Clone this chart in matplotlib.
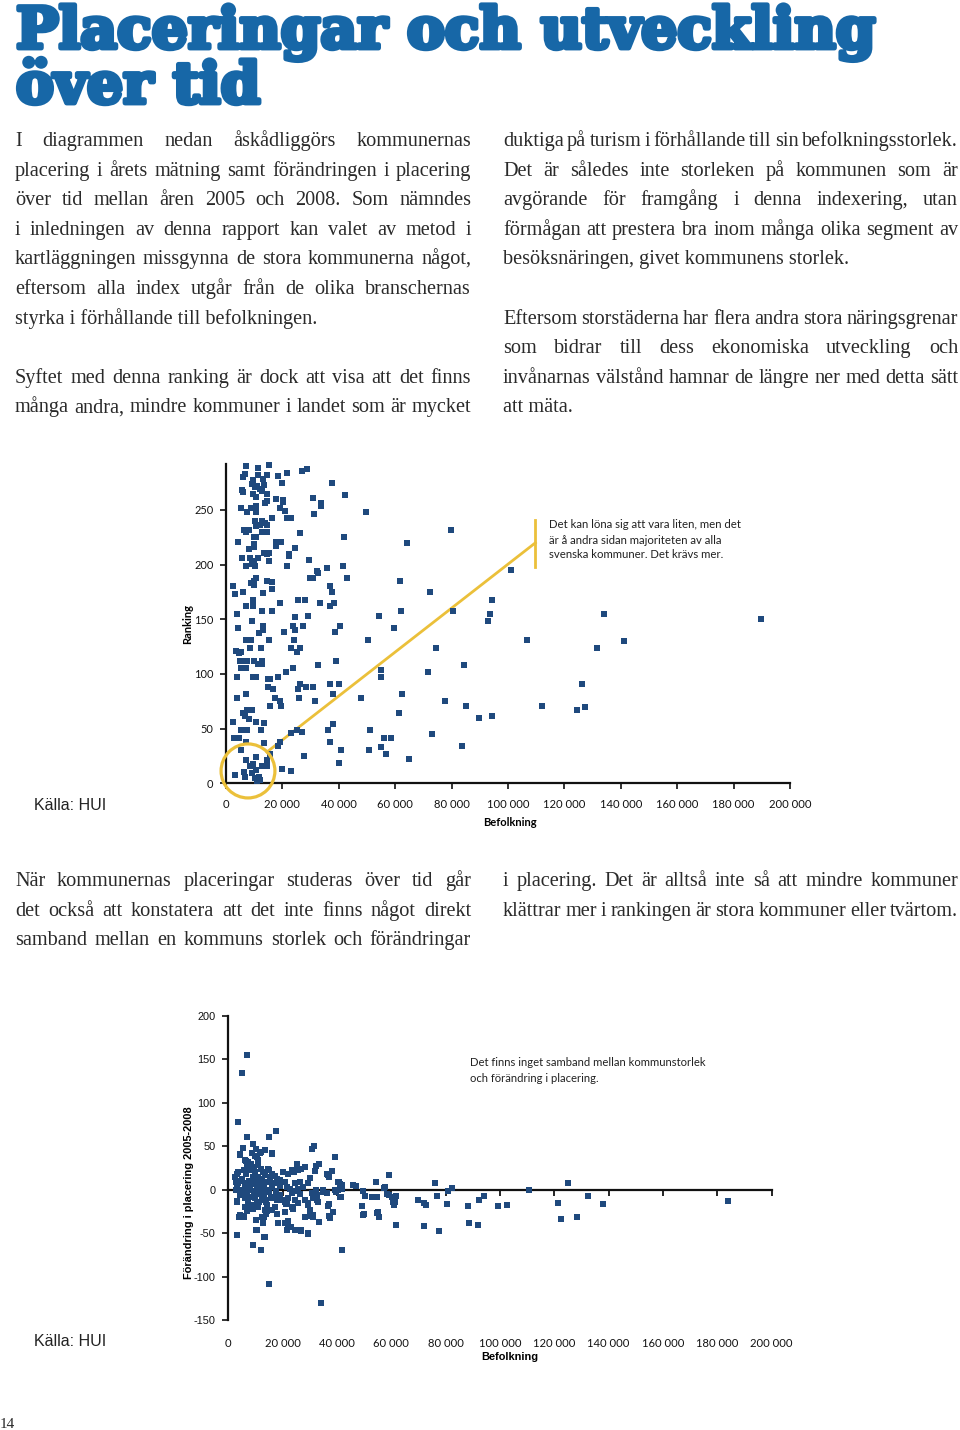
import numpy as np
import matplotlib
matplotlib.use('Agg')
import matplotlib.pyplot as plt
import matplotlib.patheffects as pe
from matplotlib.patches import Ellipse

plt.rcParams['axes.unicode_minus'] = False

# --- data: diagram 1, befolkning (tusental) och ranking ---
bef1 = [7.1, 11.4, 15.2, 6.8, 11.4, 14.4, 18.5, 21.5, 27.1, 28.8, 5.9, 9.4, 13.0, 20.0, 37.7,
        9.1, 11.1, 10.3, 13.6, 12.0, 5.5, 5.9, 9.4, 10.6, 12.6, 14.7, 30.9, 33.6, 33.6, 42.1, 17.9, 20.3, 20.3, 14.4, 13.8,
        5.2, 8.7, 10.5, 7.3, 10.8, 19.1, 20.9, 21.5, 22.9, 16.2, 31.1, 49.8, 10.3, 12.6, 13.8, 12.0, 10.8, 14.4,
        6.4, 8.3, 7.1, 12.6, 14.4, 10.6, 9.9, 4.4, 17.9, 19.5, 17.7, 26.2, 41.7, 79.8, 64.1, 24.5, 22.4, 22.4, 9.9, 9.9, 8.3, 13.4, 15.2, 14.4, 15.2, 11.4,
        5.5, 8.5, 9.9, 9.1, 7.1, 10.4, 21.8, 29.4, 35.8, 41.5, 32.4, 32.8, 101.0, 10.8, 9.9, 8.9, 9.9, 14.4, 16.2, 16.2, 29.7, 30.9, 42.9, 36.8, 37.6, 2.4, 3.2, 5.9, 13.0, 61.8, 72.2,
        9.7, 25.6, 27.9, 7.1, 9.7, 19.0, 33.5, 36.8, 38.3, 94.3, 3.8, 12.7, 16.2, 29.1, 24.5, 54.1, 61.9, 80.5, 93.6, 93.0, 9.1, 4.4, 13.2, 13.0, 11.8, 20.5, 23.8, 24.5, 27.4, 40.3, 38.6, 59.4,
        7.1, 8.8, 15.3, 24.1, 50.3, 106.9, 3.4, 4.6, 5.2, 8.5, 12.4, 23.2, 26.2, 25.3, 74.5, 5.0, 6.4, 7.5, 9.9, 12.6, 11.3, 12.7, 38.9, 5.3, 6.4, 7.1, 32.7, 21.2, 23.8, 54.9, 54.9, 71.6, 84.4, 3.8, 9.4, 10.8, 15.0, 15.6, 18.3, 26.2, 28.3, 30.9, 36.8, 40.1, 15.0, 16.7, 25.7,
        7.1, 3.8, 17.2, 25.9, 38.0, 47.7, 62.4, 19.1, 15.6, 19.5, 31.6, 77.5, 85.1, 112.2, 7.3, 9.3, 5.9, 6.8, 8.0, 61.3, 89.8, 94.3, 2.6, 10.6, 13.6, 5.2, 7.5, 12.4, 25.2, 27.1, 23.2, 36.2, 38.0, 50.9, 2.8, 4.7, 56.2, 58.6, 73.0, 7.1, 13.6, 19.1, 37.0, 5.2, 18.6, 55.1, 83.6, 40.7, 50.7, 56.8, 27.7, 15.6, 64.8, 40.1, 14.4, 7.1, 10.6, 9.4, 8.5, 12.6, 14.4, 20.0, 23.0, 3.2, 6.4, 9.1, 10.6, 6.7, 10.3, 11.1, 12.0, 11.8,
        134.0, 131.7, 141.3, 189.7, 126.2, 124.6, 127.3]
rank1 = [290, 288, 291, 283, 282, 282, 281, 284, 286, 287, 280, 277, 278, 275, 275,
         274, 272, 271, 273, 269, 268, 266, 265, 262, 267, 265, 261, 256, 254, 264, 260, 259, 257, 258, 256,
         252, 252, 254, 248, 248, 252, 249, 243, 243, 243, 246, 248, 240, 240, 238, 236, 235, 236,
         232, 232, 230, 230, 230, 225, 225, 221, 221, 221, 217, 229, 225, 232, 220, 215, 210, 208, 219, 216, 214, 211, 211, 210, 203, 206,
         206, 206, 203, 201, 199, 199, 199, 204, 197, 199, 194, 192, 195, 188, 185, 183, 181, 185, 184, 178, 188, 188, 188, 180, 175, 180, 173, 175, 174, 185, 175,
         168, 168, 168, 162, 162, 165, 165, 162, 165, 168, 155, 158, 158, 153, 152, 153, 158, 158, 155, 148, 148, 142, 144, 140, 137, 138, 144, 140, 144, 144, 138, 142,
         131, 131, 131, 131, 131, 131, 121, 119, 120, 124, 124, 124, 124, 120, 124, 112, 112, 112, 112, 112, 109, 109, 112, 105, 105, 105, 108, 102, 105, 104, 97, 102, 108, 97, 97, 97, 95, 95, 97, 91, 88, 88, 91, 91, 88, 86, 86,
         82, 78, 78, 78, 82, 78, 82, 75, 71, 71, 75, 75, 71, 71, 67, 67, 64, 62, 59, 64, 60, 62, 56, 56, 55, 49, 49, 49, 49, 47, 46, 49, 54, 49, 41, 41, 41, 41, 45, 38, 37, 38, 38, 30, 34, 33, 34, 30, 30, 27, 25, 27, 22, 19, 21, 21, 24, 18, 16, 16, 16, 13, 11, 8, 10, 9, 12, 6, 5, 2, 3, 6,
         155, 124, 130, 150, 91, 67, 70]

# --- data: diagram 2, befolkning (tusental) och förändring i placering 2005-2008 ---
bef2 = [7.0, 5.2, 3.7, 6.7, 17.4, 15.1, 31.5, 30.7, 39.3, 9.0, 10.2, 5.3, 4.3, 13.4, 16.0, 12.0, 6.5, 7.4, 25.2, 33.4, 28.2, 32.2, 31.9, 38.3, 20.0, 23.7, 26.6, 25.8, 36.2, 36.8, 37.2, 59.3, 40.7, 47.0, 54.4, 57.4, 76.1, 82.2, 80.7, 110.8,
        49.7, 50.3, 53.0, 54.6, 58.3, 60.1, 61.0, 61.1, 60.5, 69.9, 72.0, 72.8, 76.7, 80.5, 88.3, 92.4, 94.2, 99.4, 102.5, 49.1, 50.1, 55.2, 55.6, 61.8, 72.0, 77.5, 88.7, 91.8, 42.0, 34.1, 15.1, 12.0, 9.0, 3.1, 13.3, 10.2,
        17.8, 18.4, 21.7, 22.1, 20.9, 22.9, 26.6, 29.5, 28.2, 30.1, 31.0, 33.4, 37.2, 38.6, 37.3, 36.8, 37.2, 41.3, 39.5, 35.0, 36.2, 31.5, 32.5, 29.2, 25.8, 26.4, 24.9, 21.5, 21.7, 21.2, 19.4, 23.3, 23.7, 16.0, 14.1, 13.9, 13.1, 12.9, 12.6, 10.2, 10.7, 11.0, 3.1, 4.3, 3.9, 5.8, 7.0, 3.1, 3.7, 2.8, 2.8,
        4.3, 8.6, 9.8, 11.7, 13.5, 15.9, 6.1, 11.1, 10.4, 23.3, 30.1, 40.5, 41.2, 42.0, 46.0, 20.3, 22.1, 24.0, 14.7, 17.2, 19.0, 20.9, 21.5, 24.5, 26.4, 27.6, 29.5, 25.8, 32.1, 35.0, 39.3, 40.5, 41.7, 30.7, 32.5, 31.3, 33.1, 28.2, 29.5, 30.1, 31.3,
        22.7, 23.3, 22.1, 20.9, 24.5, 19.0, 17.8, 17.2, 15.9, 13.5, 14.1, 13.5, 12.3, 10.4, 9.2, 8.0, 6.8, 5.5, 3.1, 4.3, 3.1, 3.7, 2.5, 10.4, 13.5, 20.9, 22.1, 24.5, 26.7, 29.5,
        5.0, 6.0, 6.5, 7.0, 7.5, 8.0, 8.0, 8.5, 9.0, 9.0, 9.5, 10.0, 10.0, 10.0, 10.5, 11.0, 11.0, 11.5, 12.0, 12.0, 12.5, 13.0, 13.0, 13.5, 14.0, 14.0, 14.5, 15.0, 15.5, 16.0, 16.5, 17.0, 17.5, 18.0, 18.5, 19.0,
        6.0, 7.0, 8.5, 9.5, 11.0, 12.5, 5.5, 4.5, 7.2, 8.8, 10.8, 9.2, 11.8, 12.8, 14.8, 15.8, 16.2, 6.8, 7.8, 10.2, 13.2, 11.3, 5.8, 4.8, 6.2,
        41.1, 41.1, 57.7, 59.3, 61.9, 61.4, 49.5, 54.9,
        121.4, 122.5, 125.1, 128.2, 132.4, 138.0, 183.8]
fors2 = [155, 134, 78, 60, 67, 60, 50, 47, 38, 52, 47, 48, 40, 45, 41, 43, 33, 32, 30, 30, 26, 27, 21, 21, 20, 21, 24, 23, 18, 17, 15, 17, 9, 4, 9, 2, 7, 2, -2, 0,
         -2, -7, -8, -8, -5, -8, -10, -18, -14, -12, -15, -18, -7, -17, -19, -12, -7, -19, -18, -19, -28, -26, -31, -41, -42, -48, -39, -41, -69, -130, -109, -69, -64, -52, -55, -47,
         -28, -38, -47, -36, -26, -43, -46, -51, -31, -30, -31, -37, -30, -26, -33, -19, -17, -9, -3, -3, -4, -5, -12, -18, -15, -5, -2, -12, -14, -17, -12, -20, -22, -23, -25, -28, -32, -35, -38, -35, -20, -17, -13, -29, -31, -32, -25, 18, 20, 9, 0,
         41, 42, 39, 42, 46, 42, 34, 34, 38, 23, 13, 9, 6, 5, 5, 20, 18, 20, 24, 16, 11, 9, 3, 7, 9, 3, 8, 1, -1, -1, -1, 0, 1, -4, -6, -10, -14, -12, -16, -23, -29,
         1, -4, -10, -14, -12, -6, -12, -20, -24, -12, -18, -24, -31, -16, -22, -18, -22, -30, -14, -6, 2, 8, 15, -46, -54, -39, -43, -46, -48, -50,
         12, 5, 18, -3, 10, 22, 0, -8, 14, 6, -2, 20, 9, -10, 3, 15, -5, 8, 24, -1, 12, 5, -8, 17, 0, -14, 9, -3, 14, 3, -9, 8, -2, 12, -6, 4,
         -10, 28, 30, 26, 28, -12, 0, 10, -14, -18, -20, 12, 2, 20, 22, -10, 18, 8, 4, -4, -3, -14, 22, -4, -20,
         1.5, -9, 3, -6, -7, -14, -29, -27,
         -16, -34, 8, -32, -7, -17, -13]

x_ticks = list(range(0, 200001, 20000))
x_labels = [f"{v:,}".replace(",", " ") for v in x_ticks]
y1_ticks = [0, 50, 100, 150, 200, 250]
y2_ticks = [-150, -100, -50, 0, 50, 100, 150, 200]

W, H = 960, 1430
BLUE = '#1767A7'
TXT = '#2a2a2a'
DOT = '#1F497D'
GOLD = '#EBC03A'
SERIF = 'Liberation Serif'
CAL = 'Lato'
ARIAL = 'Liberation Sans'


def fx(px):
    return px / W


def fy(py):
    return 1 - py / H


fig = plt.figure(figsize=(9.6, 14.3), dpi=100)
renderer = fig.canvas.get_renderer()

# rubrik
heavy = [pe.withStroke(linewidth=3.5, foreground=BLUE)]
for txt, base in [('Placeringar och utveckling', 48), ('över tid', 103)]:
    t = fig.text(fx(16), fy(base), txt, fontsize=40, family='DejaVu Serif',
                 weight='bold', color=BLUE, va='baseline', path_effects=heavy)
    if base == 48:
        w = t.get_window_extent(renderer).width
        title_size = 40 * 858 / w
    t.set_fontsize(title_size)


def line(s, x0, x1, y, just=True, size=14.6):
    kw = dict(fontsize=size, family=SERIF, color=TXT, va='baseline')
    if not just:
        fig.text(fx(x0), fy(y), s, **kw)
        return
    words = s.split(' ')
    objs = [fig.text(0, fy(y), w, **kw) for w in words]
    widths = [o.get_window_extent(renderer).width for o in objs]
    gap = (x1 - x0 - sum(widths)) / (len(words) - 1)
    x = x0
    for o, w in zip(objs, widths):
        o.set_x(fx(x))
        x += w + gap


LH = 29.6
left_col = [
    ("I diagrammen nedan åskådliggörs kommunernas", 0, True),
    ("placering i årets mätning samt förändringen i placering", 1, True),
    ("över tid mellan åren 2005 och 2008. Som nämndes", 2, True),
    ("i inledningen av denna rapport kan valet av metod i", 3, True),
    ("kartläggningen missgynna de stora kommunerna något,", 4, True),
    ("eftersom alla index utgår från de olika branschernas", 5, True),
    ("styrka i förhållande till befolkningen.", 6, False),
    ("Syftet med denna ranking är dock att visa att det finns", 8, True),
    ("många andra, mindre kommuner i landet som är mycket", 9, True),
]
right_col = [
    ("duktiga på turism i förhållande till sin befolkningsstorlek.", 0, True),
    ("Det är således inte storleken på kommunen som är", 1, True),
    ("avgörande för framgång i denna indexering, utan", 2, True),
    ("förmågan att prestera bra inom många olika segment av", 3, True),
    ("besöksnäringen, givet kommunens storlek.", 4, False),
    ("Eftersom storstäderna har flera andra stora näringsgrenar", 6, True),
    ("som bidrar till dess ekonomiska utveckling och", 7, True),
    ("invånarnas välstånd hamnar de längre ner med detta sätt", 8, True),
    ("att mäta.", 9, False),
]
for s, i, j in left_col:
    line(s, 15, 471, 146 + LH * i, j)
for s, i, j in right_col:
    line(s, 503, 958, 146 + LH * i, j)

mid_left = ["När kommunernas placeringar studeras över tid går",
            "det också att konstatera att det inte finns något direkt",
            "samband mellan en kommuns storlek och förändringar"]
mid_right = ["i placering. Det är alltså inte så att mindre kommuner",
             "klättrar mer i rankingen är stora kommuner eller tvärtom."]
for i, s in enumerate(mid_left):
    line(s, 15, 471, 886 + LH * i)
for i, s in enumerate(mid_right):
    line(s, 503, 958, 886 + LH * i)

fig.text(fx(0), fy(1428), '14', fontsize=11, family=SERIF, color=TXT, va='baseline')


def style_axis(ax, tickfont):
    for sp in ['top', 'right']:
        ax.spines[sp].set_visible(False)
    for sp in ['left', 'bottom']:
        ax.spines[sp].set_linewidth(1.6)
        ax.spines[sp].set_color('#111111')
    ax.tick_params(axis='y', direction='out', length=4, width=1.2, pad=5,
                   labelsize=7.9, colors='#111111')
    for lab in ax.get_yticklabels():
        lab.set_family(tickfont)


# diagram 1
ax1 = fig.add_axes([fx(226), fy(783.3), (790 - 226) / W, (783.3 - 464) / H])
ax1.scatter(np.array(bef1) * 1000, rank1, marker='s', s=19, color=DOT, linewidths=0,
            zorder=3, clip_on=False)
ax1.set_xlim(0, 200000)
ax1.set_ylim(0, 292)
ax1.set_xticks(x_ticks, x_labels)
ax1.set_yticks(y1_ticks)
style_axis(ax1, CAL)
ax1.tick_params(axis='x', direction='out', length=4, width=1.2, pad=7, labelsize=8.1,
                colors='#111111')
for lab in ax1.get_xticklabels():
    lab.set_family(CAL)
ax1.set_ylabel('Ranking', fontsize=8, family=CAL, weight='bold')
ax1.yaxis.set_label_coords(-(226 - 193) / 564, 0.5)
ax1.set_xlabel('Befolkning', fontsize=8, family=CAL, weight='bold')
ax1.xaxis.set_label_coords(0.504, -(817 - 783.3) / 319.3)

ax1.add_patch(Ellipse((7800, 11.3), 19100, 49.4, fill=False, edgecolor=GOLD, lw=2.3,
                      clip_on=False, zorder=4))
ax1.plot([14500, 109700], [28.6, 219.9], color=GOLD, lw=2.0, clip_on=False, zorder=2)
ax1.plot([109700, 109700], [198, 241], color=GOLD, lw=2.0, clip_on=False, zorder=2)
ax1.annotate('', xy=(201000, 78.5), xytext=(187500, 78.5),
             arrowprops=dict(arrowstyle='-|>', color='k', lw=1, mutation_scale=7))
for i, s in enumerate(["Det kan löna sig att vara liten, men det",
                       "är å andra sidan majoriteten av alla",
                       "svenska kommuner. Det krävs mer."]):
    fig.text(fx(549), fy(525 + 15 * i), s, fontsize=8.2, family=CAL, color='#222222',
             va='center')
fig.text(fx(34), fy(806), 'Källa: HUI', fontsize=11.5, family=ARIAL, color='#222222',
         va='center')

# diagram 2
ax2 = fig.add_axes([fx(228.3), fy(1320), (771.7 - 228.3) / W, (1320 - 1015.7) / H])
ax2.scatter(np.array(bef2) * 1000, fors2, marker='s', s=19, color=DOT, linewidths=0,
            zorder=3, clip_on=False)
ax2.set_xlim(0, 200000)
ax2.set_ylim(-150, 200)
ax2.set_yticks(y2_ticks)
style_axis(ax2, ARIAL)
ax2.spines['bottom'].set_visible(False)
ax2.set_xticks(x_ticks, x_labels)
ax2.tick_params(axis='x', length=0, pad=13, labelsize=8.1, colors='#111111')
for lab in ax2.get_xticklabels():
    lab.set_family(CAL)
sec = ax2.secondary_xaxis(150 / 350)
sec.set_xticks(x_ticks)
sec.tick_params(direction='out', length=4, width=1.2, labelbottom=False, labeltop=False)
sec.spines['bottom'].set_linewidth(1.6)
sec.spines['bottom'].set_color('#111111')
ax2.set_ylabel('Förändring i placering 2005-2008', fontsize=7.9, family=ARIAL, weight='bold')
ax2.yaxis.set_label_coords(-(228.3 - 194) / 543.4, (1320 - 1193) / 304.3)
ax2.set_xlabel('Befolkning', fontsize=7.9, family=ARIAL, weight='bold')
ax2.xaxis.set_label_coords((510 - 228.3) / 543.4, -(1352 - 1320) / 304.3)
ax2.annotate('', xy=(201000, -72), xytext=(188000, -72),
             arrowprops=dict(arrowstyle='-|>', color='k', lw=1, mutation_scale=7))
for i, s in enumerate(["Det finns inget samband mellan kommunstorlek",
                       "och förändring i placering."]):
    fig.text(fx(470), fy(1063 + 15 * i), s, fontsize=8.1, family=CAL, color='#222222',
             va='center')
fig.text(fx(34), fy(1341), 'Källa: HUI', fontsize=11.5, family=ARIAL, color='#222222',
         va='center')

fig.savefig('out.png', dpi=100)
